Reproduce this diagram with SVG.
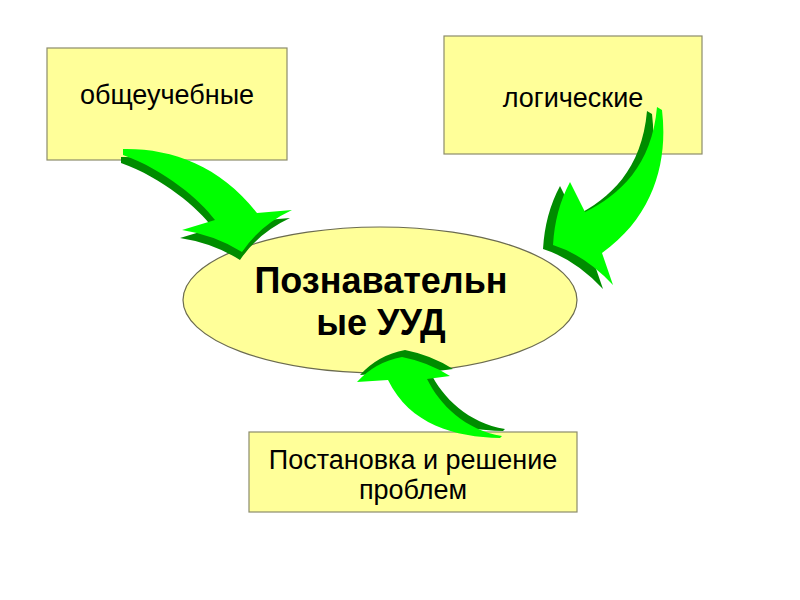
<svg xmlns="http://www.w3.org/2000/svg" width="800" height="600" viewBox="0 0 800 600">
<style>
.box{fill:#FFFF99;stroke:#8c8c6c;stroke-width:1.2}
.t{font-family:"Liberation Sans",Arial,sans-serif;font-size:27px;fill:#000;text-anchor:middle}
.tb{font-family:"Liberation Sans",Arial,sans-serif;font-size:36px;font-weight:bold;fill:#000;text-anchor:middle}
.side{fill:#008c00}
.face{fill:#00FF00}
</style>
<rect width="800" height="600" fill="#fff"/>
<g id="box1"><rect class="box" x="47" y="48" width="240" height="112"/><text class="t" x="167" y="104">общеучебные</text></g>
<g id="box2"><rect class="box" x="444" y="36" width="258" height="118"/><text class="t" x="573" y="107">логические</text></g>
<g id="center"><ellipse cx="380" cy="300" rx="197" ry="73" fill="#FFFF99" stroke="#6b6b50" stroke-width="1.2"/><text class="tb" x="381" y="293">Познавательн</text><text class="tb" x="381" y="335">ые УУД</text></g>
<g id="box3"><rect class="box" x="249" y="432" width="328" height="80"/><text class="t" x="413" y="469">Постановка и решение</text><text class="t" x="413" y="499">проблем</text></g>
<g id="connectors">
<g id="a1">
<path class="side" transform="translate(-2,8)" d="M123,149 C170,148 220,165 257,213 L292,210 Q260,225 242,252 Q215,235 182,230 L215,220 C200,200 165,170 123,155 Z"/>
<path class="face" d="M123,149 C170,148 220,165 257,213 L292,210 Q260,225 242,252 Q215,235 182,230 L215,220 C200,200 165,170 123,155 Z"/>
</g>
<g id="a2">
<path class="side" transform="translate(-10,4)" d="M657,107 L662,110 C668,160 655,215 602,253 L613,285 Q585,255 553,245 Q555,210 570,182 L585,212 C620,195 652,165 657,107 Z"/>
<path class="face" d="M657,107 L662,110 C668,160 655,215 602,253 L613,285 Q585,255 553,245 Q555,210 570,182 L585,212 C620,195 652,165 657,107 Z"/>
</g>
<g id="a3">
<path class="side" transform="translate(3,-7)" d="M402,357 Q428,362 450,376 L427,379 C440,405 465,430 502,436 L500,438 C455,437 410,425 388,380 L357,382 Q375,362 402,357 Z"/>
<path class="face" d="M402,357 Q428,362 450,376 L427,379 C440,405 465,430 502,436 L500,438 C455,437 410,425 388,380 L357,382 Q375,362 402,357 Z"/>
</g>
</g>
</svg>
